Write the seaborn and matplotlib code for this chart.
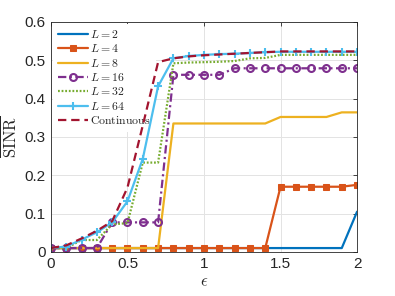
import numpy as np
import pandas as pd
import matplotlib
matplotlib.use("Agg")
import matplotlib.pyplot as plt
import seaborn as sns

eps = [round(0.1 * i, 1) for i in range(21)]

L2 = [0.01] * 20 + [0.105]
L4 = [0.01] * 15 + [0.17, 0.17, 0.17, 0.17, 0.17, 0.175]
L8 = [0.01] * 8 + [0.335] * 7 + [0.352] * 4 + [0.364, 0.364]
L16 = [0.01, 0.01, 0.01, 0.01, 0.077, 0.077, 0.077, 0.077,
       0.462, 0.462, 0.462, 0.462] + [0.479] * 9
L32 = [0.01, 0.01, 0.031, 0.031, 0.072, 0.075, 0.233, 0.233,
       0.492, 0.494, 0.495, 0.496, 0.498, 0.505, 0.506] + [0.514] * 6
L64 = [0.01, 0.014, 0.032, 0.051, 0.077, 0.132, 0.243, 0.432,
       0.505, 0.511, 0.514, 0.516, 0.517, 0.519, 0.521] + [0.522] * 6
Cont = [0.01, 0.017, 0.035, 0.055, 0.08, 0.168, 0.33, 0.495,
        0.505, 0.51, 0.513, 0.515, 0.517, 0.519, 0.521] + [0.523] * 6

series = [
    ("$L = 2$", L2, "#0072BD", "-", None),
    ("$L = 4$", L4, "#D95319", "-", "s"),
    ("$L = 8$", L8, "#EDB120", "-", None),
    ("$L = 16$", L16, "#7E2F8E", "-.", "o"),
    ("$L = 32$", L32, "#77AC30", ":", None),
    ("$L = 64$", L64, "#4DBEEE", "-", "+"),
    (r"$\mathrm{Continuous}$", Cont, "#A2142F", "--", None),
]

dash_map = {"-": "solid", "--": (0, (6, 3.5)), "-.": (0, (6, 2.5, 1.5, 2.5)),
            ":": (0, (1.3, 1.3))}

sns.set_style("white")
plt.rcParams["font.family"] = ["Liberation Sans", "DejaVu Sans"]
plt.rcParams["mathtext.fontset"] = "cm"
plt.rcParams["lines.scale_dashes"] = False

fig = plt.figure(figsize=(3.95, 2.96), dpi=100)
ax = fig.add_axes([0.129, 0.149, 0.775, 0.777])

for name, vals, col, ls, mk in series:
    df = pd.DataFrame({"eps": eps, "val": vals})
    kw = dict(color=col, linewidth=1.6, label=name)
    if mk == "s":
        kw.update(marker="s", markersize=4.5, markerfacecolor=col, markeredgecolor=col)
    elif mk == "o":
        kw.update(marker="o", markersize=5, markerfacecolor="none",
                  markeredgecolor=col, markeredgewidth=1.5)
    elif mk == "+":
        kw.update(marker="+", markersize=6, markeredgewidth=1.5,
                  markeredgecolor=col)
    n0 = len(ax.lines)
    sns.lineplot(data=df, x="eps", y="val", ax=ax, **kw)
    for l in ax.lines[n0:]:
        l.set_linestyle(dash_map[ls])

ax.set_xlim(0, 2)
ax.set_ylim(0, 0.6)
ax.set_xticks([0, 0.5, 1, 1.5, 2])
ax.set_xticklabels(["0", "0.5", "1", "1.5", "2"])
ax.set_yticks([0, 0.1, 0.2, 0.3, 0.4, 0.5, 0.6])
ax.set_yticklabels(["0", "0.1", "0.2", "0.3", "0.4", "0.5", "0.6"])
ax.grid(True, color="#e3e3e3", linewidth=0.7)
ax.set_axisbelow(True)
ax.tick_params(direction="in", length=3, width=0.6, labelsize=11,
               top=True, right=True, colors="#262626", pad=4)
for s in ax.spines.values():
    s.set_color("#262626")
    s.set_linewidth(0.6)
ax.set_xlabel(r"$\epsilon$", fontsize=12, labelpad=2)
ax.set_ylabel(r"$\overline{\mathrm{SINR}}$", fontsize=12, labelpad=4)

leg = ax.legend(loc="upper left", fontsize=8.5, frameon=True, framealpha=1,
                facecolor="white", edgecolor="white", handlelength=2.5,
                handletextpad=0.2, labelspacing=0.2, borderpad=0.45,
                borderaxespad=0.15)
leg.get_frame().set_linewidth(0)
leg.set_zorder(1.5)

fig.savefig("out.png", dpi=100)
